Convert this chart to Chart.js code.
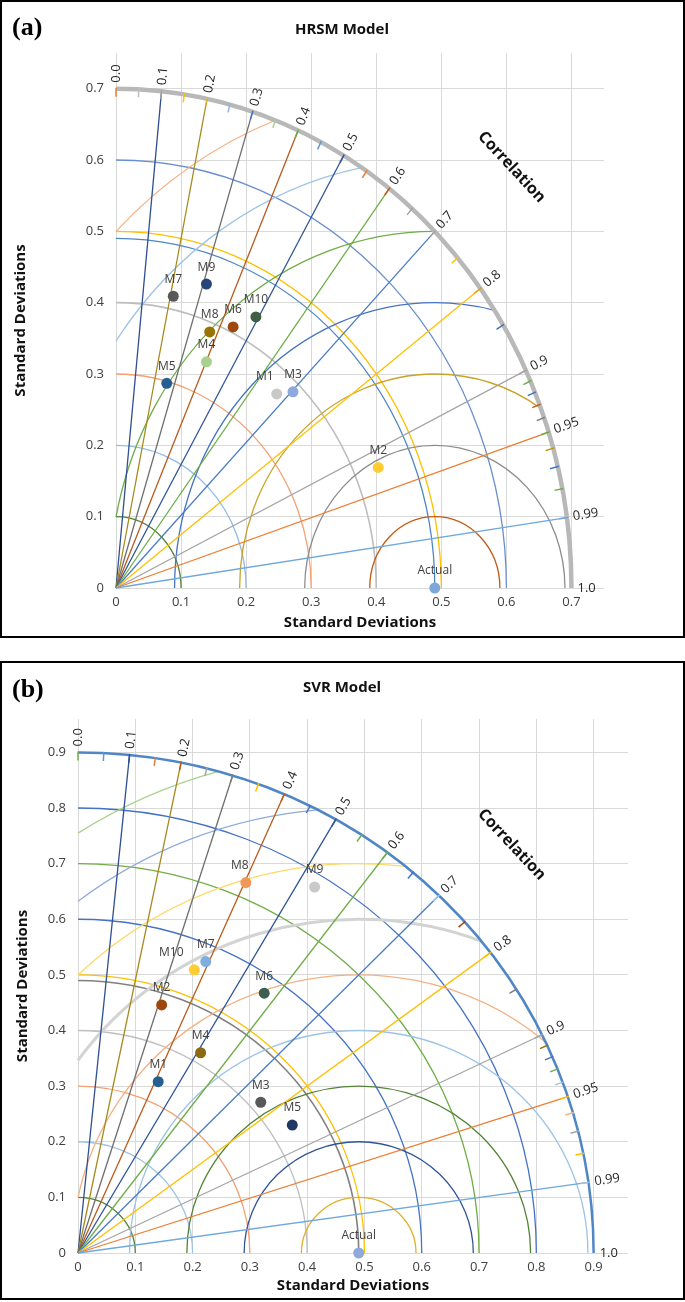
<!DOCTYPE html>
<html><head><meta charset="utf-8">
<script src="https://cdn.jsdelivr.net/npm/chart.js@4.4.0/dist/chart.umd.min.js"></script>
<style>
html,body{margin:0;padding:0;background:#fff;}
#wrap{position:relative;width:685px;height:1302px;overflow:hidden;}
.panel{position:absolute;left:0;width:685px;}
canvas{display:block;}
</style></head><body>
<div id="wrap">
<div class="panel" style="top:0;height:640px"><canvas id="ca" width="685" height="640"></canvas></div>
<div class="panel" style="top:661px;height:641px"><canvas id="cb" width="685" height="641"></canvas></div>
</div>
<script>
// ---------------- DATA ----------------
const modelNames = ['M1','M2','M3','M4','M5','M6','M7','M8','M9','M10'];
// HRSM model (x = sigma*cos, y = sigma*sin)
const hrsmX = [0.247,0.403,0.272,0.139,0.078,0.180,0.088,0.144,0.139,0.215];
const hrsmY = [0.272,0.169,0.275,0.317,0.287,0.366,0.409,0.359,0.426,0.380];
// SVR model
const svrX = [0.140,0.146,0.319,0.214,0.374,0.325,0.223,0.293,0.413,0.203];
const svrY = [0.308,0.446,0.271,0.360,0.230,0.467,0.524,0.666,0.658,0.509];
// Reference (Actual)
const actualLabel = 'Actual';
const actualStd = 0.49;
// Correlation lines & labels
const corrLineValues = [0.1,0.2,0.3,0.4,0.5,0.6,0.7,0.8,0.9,0.95,0.99];
const corrLabelValues = [0,0.1,0.2,0.3,0.4,0.5,0.6,0.7,0.8,0.9,0.95,0.99,1.0];
const corrLabelTexts = ['0.0','0.1','0.2','0.3','0.4','0.5','0.6','0.7','0.8','0.9','0.95','0.99','1.0'];
const corrTickValues = [0,0.05,0.1,0.15,0.2,0.25,0.3,0.35,0.4,0.45,0.5,0.55,0.6,0.65,0.7,0.75,0.8,0.85,0.9,0.91,0.92,0.93,0.94,0.95,0.96,0.97,0.98,0.99];
// Axis ticks
const hrsmAxisTicks = [0,0.1,0.2,0.3,0.4,0.5,0.6,0.7];
const svrAxisTicks = [0,0.1,0.2,0.3,0.4,0.5,0.6,0.7,0.8,0.9];
// Arc radii
const hrsmOuterStd = 0.7;
const svrOuterStd = 0.9;
const hrsmStdRadii = [0.1,0.2,0.3,0.4,0.49,0.5,0.6];
const hrsmRmsRadii = [0.1,0.2,0.3,0.4,0.5,0.6,0.7];
const svrStdRadii = [0.1,0.2,0.3,0.4,0.49,0.5,0.6,0.7,0.8];
const svrRmsRadii = [0.1,0.2,0.3,0.4,0.5,0.6,0.7,0.8,0.9];

// ---------------- STYLE ----------------
const corrColors = ['#2F4F8F','#A68A1F','#6E6E6E','#B85A1C','#2F5597','#70AD47','#4A7CC4','#FFC000','#A5A5A5','#ED7D31','#6FA8DC'];
const styleA = {
  letter:'(a)', title:'HRSM Model', titleY:30, letterY:28, borderH:636,
  pad:{left:12,right:81,top:53,bottom:8}, yW:104, xH:44, axisMax:0.75,
  stdColors:['#548235','#8FBCE6','#F4A070','#BDBDBD','#4F86C6','#FFC000','#6A8FD0'],
  stdWidths:[1.3,1.3,1.3,1.6,1.3,1.3,1.3],
  rmsColors:['#C55A11','#8C8C8C','#C9A227','#4472C4','#70AD47','#9DC3E6','#F4B183'],
  rmsWidths:[1.3,1.3,1.3,1.3,1.3,1.3,1.3],
  outerColor:'#B8B8B8', outerWidth:4.5,
  tickColors:['#ED7D31','#BFBFBF','#A5A5A5','#FFC000','#E0B030','#8FB4E3','#4472C4','#A9D18E','#70AD47','#5B9BD5','#2F5597','#ED7D31','#C55A11','#A5A5A5','#A5A5A5','#FFC000','#E0A020','#4472C4','#A5A5A5','#70AD47','#4472C4','#C55A11','#7F7F7F','#70AD47','#BF9000','#4472C4','#70AD47','#6FA8DC'],
  pointColors:['#C9C9C9','#FFCD33','#8EA9DB','#A9D18E','#255E91','#9E480E','#595959','#997300','#264478','#3F5F45'],
  actualColor:'#7EA8DA',
  labelDx:[-12,0,0,0,0,0,0,0,0,0],
  corrTitle:{x:0.608,y:0.590}
};
const styleB = {
  letter:'(b)', title:'SVR Model', titleY:27, letterY:29, borderH:637,
  pad:{left:14,right:57,top:58,bottom:7}, yW:64, xH:42, axisMax:0.96,
  stdColors:['#548235','#9DC3E6','#F4A070','#BFBFBF','#808080','#FFC000','#4472C4','#70AD47','#4472C4'],
  stdWidths:[1.3,1.3,1.3,1.3,1.6,1.3,1.3,1.3,1.3],
  rmsColors:['#E0B02A','#2F5597','#548235','#9DC3E6','#F4B183','#D3D3D3','#FFD966','#8FAADC','#A9D18E'],
  rmsWidths:[1.3,1.3,1.3,1.3,1.3,3,1.3,1.3,1.3],
  outerColor:'#4F86C6', outerWidth:2.5,
  tickColors:['#70AD47','#5B9BD5','#2F5597','#ED7D31','#C55A11','#A5A5A5','#7F7F7F','#FFC000','#C55A11','#4472C4','#2F5597','#70AD47','#70AD47','#4472C4','#9DC3E6','#9E480E','#FFC000','#7F7F7F','#A5A5A5','#997300','#4472C4','#70AD47','#9DC3E6','#FFC000','#F4B183','#A5A5A5','#FFC000','#9DC3E6'],
  pointColors:['#255E91','#9E480E','#595959','#8C6A12','#1F3864','#3B5E4F','#7CAFDD','#F1975A','#C9C9C9','#FFCD33'],
  actualColor:'#8EA9DB',
  labelDx:[0,0,0,0,0,0,0,-6,0,-23],
  corrTitle:{x:0.757,y:0.734}
};

const FONT = "'Open Sans', 'Liberation Sans', sans-serif";

const taylorPlugin = {
  id:'taylor',
  beforeDatasetsDraw(chart, args, P) {
    const ctx = chart.ctx, xs = chart.scales.x, ys = chart.scales.y;
    const X = v => xs.getPixelForValue(v), Y = v => ys.getPixelForValue(v);
    const ox = X(0), oy = Y(0), R = P.outer, c = P.ref, S = P.style;
    ctx.save();
    // standard deviation arcs around origin
    P.stdRadii.forEach((r,i) => {
      ctx.beginPath();
      ctx.ellipse(ox, oy, X(r)-ox, oy-Y(r), 0, -Math.PI/2, 0);
      ctx.strokeStyle = S.stdColors[i]; ctx.lineWidth = S.stdWidths[i]; ctx.stroke();
    });
    // RMS difference arcs around reference
    P.rmsRadii.forEach((r,i) => {
      const cosMax = Math.min(1, (R*R - c*c - r*r)/(2*c*r));
      const cosMin = Math.max(-1, -c/r);
      const p1 = Math.acos(cosMax), p2 = Math.acos(cosMin);
      ctx.beginPath();
      ctx.ellipse(X(c), oy, X(r)-ox, oy-Y(r), 0, -p2, -p1);
      ctx.strokeStyle = S.rmsColors[i]; ctx.lineWidth = S.rmsWidths[i]; ctx.stroke();
    });
    // correlation lines
    P.corrLines.forEach((cc,i) => {
      const s = Math.sqrt(1-cc*cc);
      ctx.beginPath(); ctx.moveTo(ox, oy); ctx.lineTo(X(R*cc), Y(R*s));
      ctx.strokeStyle = corrColors[i]; ctx.lineWidth = 1.3; ctx.stroke();
    });
    // outer arc
    ctx.beginPath();
    ctx.ellipse(ox, oy, X(R)-ox, oy-Y(R), 0, -Math.PI/2, 0);
    ctx.strokeStyle = S.outerColor; ctx.lineWidth = S.outerWidth; ctx.stroke();
    // ticks on outer arc
    P.ticks.forEach((cc,i) => {
      const s = Math.sqrt(Math.max(0,1-cc*cc));
      const px = X(R*cc), py = Y(R*s);
      const dx = ox-px, dy = oy-py, L = Math.hypot(dx,dy);
      ctx.beginPath(); ctx.moveTo(px - dx/L*1, py - dy/L*1); ctx.lineTo(px + dx/L*8, py + dy/L*8);
      ctx.strokeStyle = S.tickColors[i % S.tickColors.length]; ctx.lineWidth = 1.5; ctx.stroke();
    });
    ctx.restore();
  },
  afterDatasetsDraw(chart, args, P) {
    const ctx = chart.ctx, xs = chart.scales.x, ys = chart.scales.y;
    const X = v => xs.getPixelForValue(v), Y = v => ys.getPixelForValue(v);
    const ox = X(0), oy = Y(0), R = P.outer, S = P.style;
    ctx.save();
    // point labels
    ctx.font = '12px ' + FONT; ctx.fillStyle = '#404040';
    ctx.textAlign = 'center'; ctx.textBaseline = 'middle';
    P.xs.forEach((x,i) => {
      ctx.fillText(modelNames[i], X(x) + S.labelDx[i], Y(P.ys[i]) - 17);
    });
    ctx.fillText(actualLabel, X(P.ref), Y(0) - 17);
    // correlation labels
    ctx.font = '13px ' + FONT; ctx.fillStyle = '#262626';
    ctx.textAlign = 'left';
    corrLabelValues.forEach((cc,i) => {
      const s = Math.sqrt(Math.max(0,1-cc*cc));
      const px = X(R*cc), py = Y(R*s);
      const dx = px-ox, dy = py-oy, L = Math.hypot(dx,dy);
      const ux = dx/L, uy = dy/L;
      ctx.save();
      ctx.translate(px + ux*6, py + uy*6);
      ctx.rotate(Math.atan2(uy, ux));
      ctx.fillText(corrLabelTexts[i], 0, 0);
      ctx.restore();
    });
    // "Correlation" title
    ctx.save();
    ctx.translate(X(S.corrTitle.x), Y(S.corrTitle.y));
    ctx.rotate(47*Math.PI/180);
    ctx.font = 'bold 16px ' + FONT; ctx.fillStyle = '#111'; ctx.textAlign = 'center';
    ctx.fillText('Correlation', 0, 0);
    ctx.restore();
    // panel title & letter
    ctx.font = 'bold 15px ' + FONT; ctx.fillStyle = '#111'; ctx.textAlign = 'center';
    ctx.fillText(S.title, 342, S.titleY);
    ctx.font = "bold 26px 'Liberation Serif', serif"; ctx.textAlign = 'left'; ctx.fillStyle = '#000';
    ctx.fillText(S.letter, 12, S.letterY);
    // border
    ctx.strokeStyle = '#000'; ctx.lineWidth = 2;
    ctx.strokeRect(1, 1, 683, S.borderH);
    ctx.restore();
  }
};

function makePanel(canvasId, xsArr, ysArr, outer, axisTicks, stdRadii, rmsRadii, S) {
  const fmt = v => (Math.abs(v) < 1e-9 ? '0' : v.toFixed(1));
  const tickFont = {family: FONT, size: 13};
  const titleFont = {family: FONT, size: 15, weight: 'bold'};
  return new Chart(document.getElementById(canvasId), {
    type: 'scatter',
    data: {
      datasets: [
        {label: 'Models', data: xsArr.map((x,i) => ({x: x, y: ysArr[i]})),
         backgroundColor: S.pointColors, borderColor: S.pointColors, borderWidth: 0,
         pointRadius: 5.5, pointHoverRadius: 5.5, clip: false},
        {label: actualLabel, data: [{x: actualStd, y: 0}],
         backgroundColor: S.actualColor, borderColor: S.actualColor, borderWidth: 0,
         pointRadius: 5.5, pointHoverRadius: 5.5, clip: false}
      ]
    },
    options: {
      responsive: false, animation: false, events: [],
      layout: {padding: S.pad},
      plugins: {
        legend: {display: false}, tooltip: {enabled: false},
        taylor: {xs: xsArr, ys: ysArr, outer: outer, ref: actualStd,
                 stdRadii: stdRadii, rmsRadii: rmsRadii, corrLines: corrLineValues,
                 ticks: corrTickValues, style: S}
      },
      scales: {
        x: {type: 'linear', min: 0, max: S.axisMax,
            afterBuildTicks: s => { s.ticks = axisTicks.map(v => ({value: v})); },
            afterFit: s => { s.height = S.xH; },
            ticks: {font: tickFont, color: '#404040', padding: 6, maxRotation: 0, callback: v => fmt(v)},
            grid: {color: '#D9D9D9', lineWidth: 1, drawTicks: false},
            border: {display: false},
            title: {display: true, text: 'Standard Deviations', font: titleFont, color: '#111', padding: 0}},
        y: {type: 'linear', min: 0, max: S.axisMax,
            afterBuildTicks: s => { s.ticks = axisTicks.map(v => ({value: v})); },
            afterFit: s => { s.width = S.yW; },
            ticks: {font: tickFont, color: '#404040', padding: 12, callback: v => fmt(v)},
            grid: {color: '#D9D9D9', lineWidth: 1, drawTicks: false},
            border: {display: false},
            title: {display: true, text: 'Standard Deviations', font: titleFont, color: '#111', padding: 0}}
      }
    },
    plugins: [taylorPlugin]
  });
}

makePanel('ca', hrsmX, hrsmY, hrsmOuterStd, hrsmAxisTicks, hrsmStdRadii, hrsmRmsRadii, styleA);
makePanel('cb', svrX, svrY, svrOuterStd, svrAxisTicks, svrStdRadii, svrRmsRadii, styleB);
</script>
</body></html>
